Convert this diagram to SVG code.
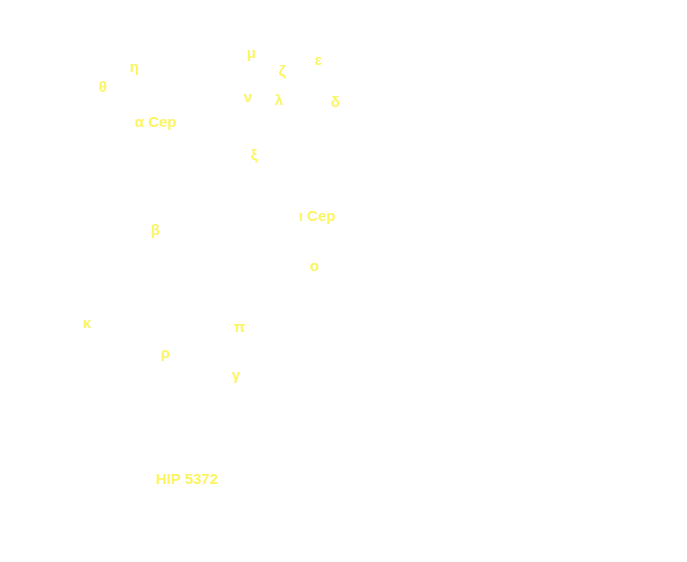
<svg xmlns="http://www.w3.org/2000/svg" width="687" height="562" viewBox="0 0 687 562">
<style>
.l{font-family:"Liberation Sans",Arial,sans-serif;font-size:15px;font-weight:bold;fill:#fcf563}
</style>
<rect width="687" height="562" fill="#ffffff"/>
<g id="eta"><text class="l" x="130" y="72">η</text></g>
<g id="theta"><text class="l" x="99" y="92">θ</text></g>
<g id="alphaCep"><text class="l" x="135" y="127">α Cep</text></g>
<g id="mu"><text class="l" x="247" y="58">μ</text></g>
<g id="zeta"><text class="l" x="279" y="76">ζ</text></g>
<g id="epsilon"><text class="l" x="315" y="65">ε</text></g>
<g id="nu"><text class="l" x="244" y="102">ν</text></g>
<g id="lambda"><text class="l" x="275" y="105">λ</text></g>
<g id="delta"><text class="l" x="331" y="107">δ</text></g>
<g id="xi"><text class="l" x="251" y="160">ξ</text></g>
<g id="iotaCep"><text class="l" x="299" y="221">ι Cep</text></g>
<g id="beta"><text class="l" x="151" y="235">β</text></g>
<g id="omicron"><text class="l" x="310" y="271">ο</text></g>
<g id="kappa"><text class="l" x="83" y="328">κ</text></g>
<g id="pi"><text class="l" x="234" y="332">π</text></g>
<g id="rho"><text class="l" x="161" y="358">ρ</text></g>
<g id="gamma"><text class="l" x="232" y="380">γ</text></g>
<g id="hip5372"><text class="l" x="156" y="484">HIP 5372</text></g>
<g id="connectors"></g>
</svg>
